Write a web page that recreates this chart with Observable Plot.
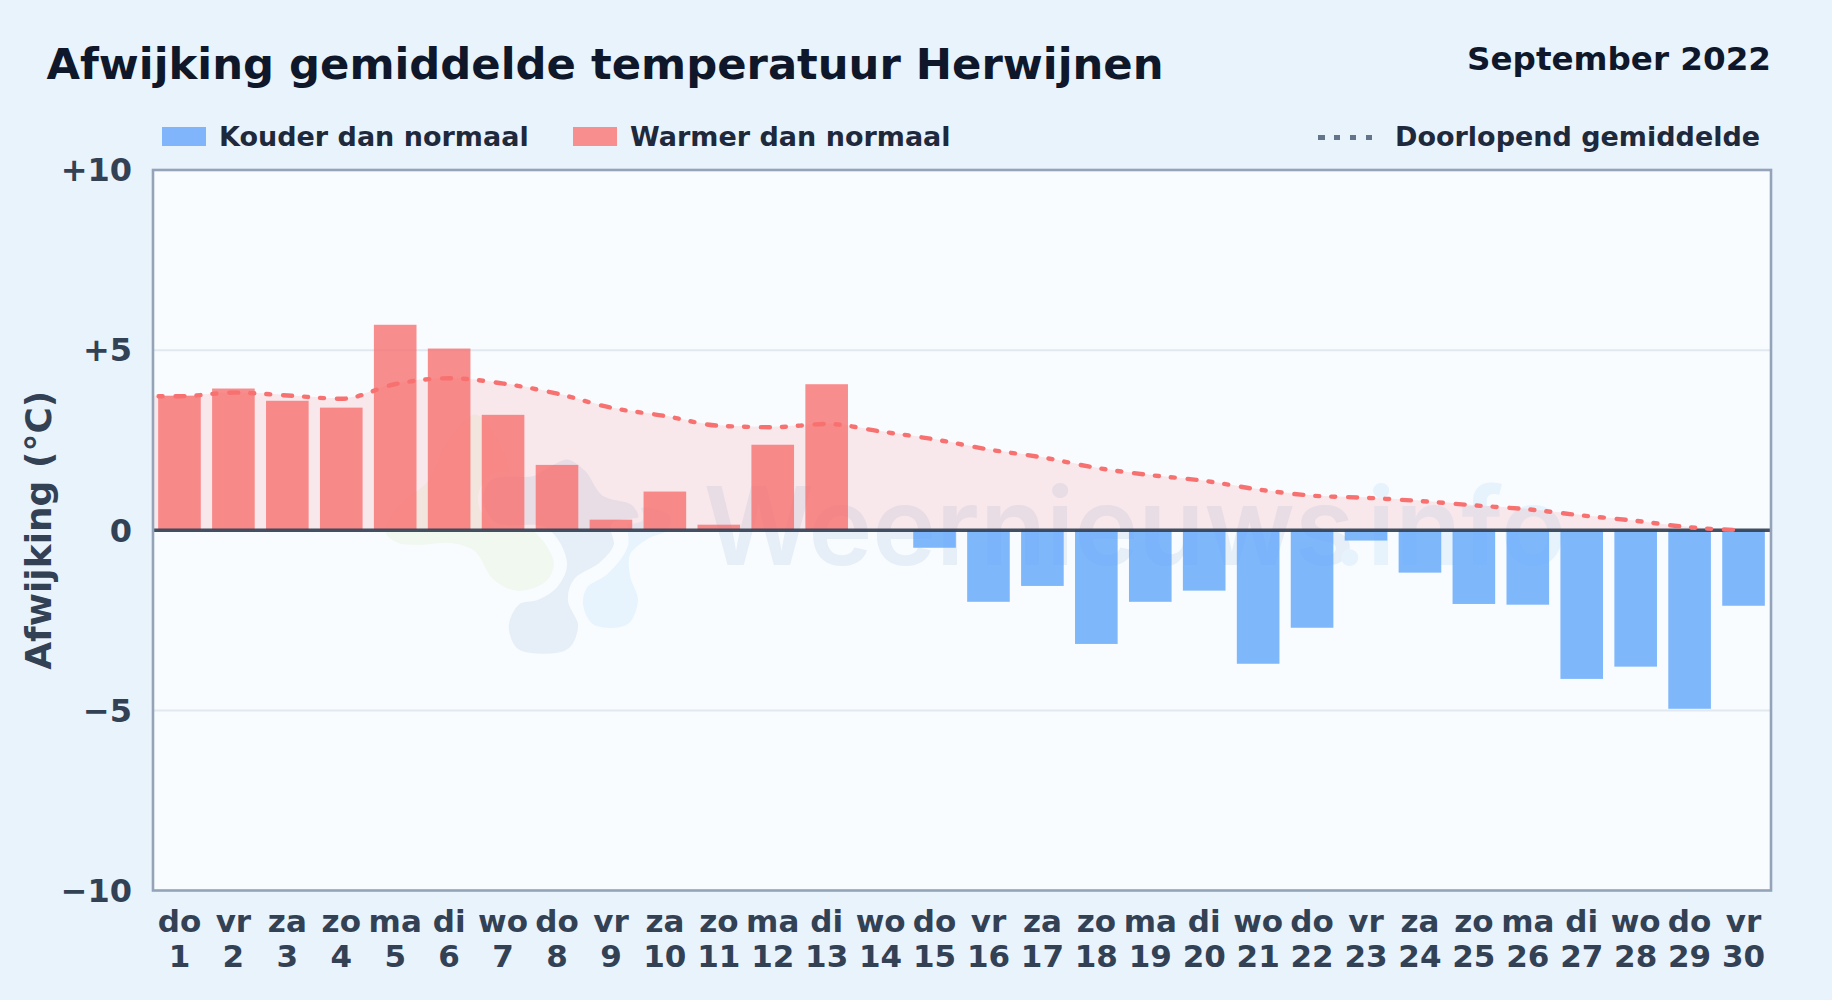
<!DOCTYPE html>
<html lang="nl">
<head>
<meta charset="utf-8">
<script src="https://cdn.jsdelivr.net/npm/d3@7"></script>
<script src="https://cdn.jsdelivr.net/npm/@observablehq/plot@0.6"></script>
<style>
html,body{margin:0;padding:0;width:1832px;height:1000px;overflow:hidden;background:#e9f3fc;font-family:"DejaVu Sans",sans-serif;font-weight:700}
#chart{position:absolute;left:0;top:0}
.t{position:absolute;line-height:1;white-space:nowrap}
#title{left:46.5px;top:43px;font-size:43.3px;color:#0f172a}
#month{right:61px;top:43px;font-size:32.6px;color:#0f172a}
.leg{top:123px;font-size:27px;color:#1e293b}
.sw{position:absolute;top:127px;height:19px;width:43.5px}
#dots{position:absolute;left:1318px;top:134.5px;width:55px;height:5px;background:repeating-linear-gradient(90deg,#64748b 0,#64748b 6.5px,transparent 6.5px,transparent 16px)}
</style>
</head>
<body>
<div class="t" id="title">Afwijking gemiddelde temperatuur Herwijnen</div>
<div class="t" id="month">September 2022</div>
<div class="sw" style="left:162px;background:#80b5fb"></div>
<div class="t leg" style="left:219px">Kouder dan normaal</div>
<div class="sw" style="left:573px;background:#f98e8f"></div>
<div class="t leg" style="left:630px">Warmer dan normaal</div>
<div id="dots"></div>
<div class="t leg" style="left:1395px">Doorlopend gemiddelde</div>
<div id="chart"></div>
<script>
const dayNames = ["do","vr","za","zo","ma","di","wo","do","vr","za","zo","ma","di","wo","do","vr","za","zo","ma","di","wo","do","vr","za","zo","ma","di","wo","do","vr"];
const dayNumbers = [1,2,3,4,5,6,7,8,9,10,11,12,13,14,15,16,17,18,19,20,21,22,23,24,25,26,27,28,29,30];
const deviation = [3.72,3.92,3.58,3.39,5.69,5.03,3.19,1.80,0.28,1.06,0.14,2.36,4.04,0,-0.50,-2.00,-1.56,-3.17,-2.00,-1.69,-3.72,-2.72,-0.30,-1.19,-2.06,-2.08,-4.14,-3.80,-4.97,-2.11];
const runningDays = [0.5,1,2,3,4,5,6,7,8,9,10,11,12,13,14,15,16,17,18,19,20,21,22,23,24,25,26,27,28,29,30];
const runningMean = [3.72,3.72,3.82,3.74,3.65,4.06,4.22,4.07,3.79,3.40,3.17,2.90,2.86,2.95,2.74,2.52,2.24,2.02,1.73,1.53,1.37,1.13,0.96,0.90,0.81,0.69,0.58,0.41,0.26,0.08,0];
const yTicks = [-10,-5,0,5,10];
const yTickLabels = ["−10","−5","0","+5","+10"];
const gridValues = [-5,5];

// faint watermark logo outlines, in chart units (day, degrees)
const logoGreenX = [4.77,5.03,5.46,6.02,6.44,6.76,7.26,7.82,7.98,7.82,7.31,7.04,6.48,5.92,5.55,5.0];
const logoGreenY = [-0.08,-0.42,-0.47,-0.42,-0.64,-1.39,-1.75,-1.47,-0.92,-0.36,0.56,2.22,3.28,2.5,1.39,0.69];
const logoLightX = [8.43,8.61,8.98,9.35,9.54,9.39,9.39,9.72,10.06,10.13,9.54,9.26,9.26,8.89,8.52];
const logoLightY = [-2.08,-2.64,-2.78,-2.64,-1.94,-1.25,-0.69,-0.28,-0.06,0.42,0.69,0.28,-0.42,-1.17,-1.53];
const logoDarkX = [7.05,7.22,7.70,8.24,8.43,8.24,8.35,8.80,9.09,9.04,9.54,9.41,8.85,8.56,8.19,7.82,7.56,6.76,6.57,6.85,7.78,8.13,7.96,7.63,7.26];
const logoDarkY = [-2.64,-3.33,-3.5,-3.33,-2.64,-1.94,-1.39,-0.97,-0.42,0.14,0.33,0.75,1.03,1.67,2.03,1.81,1.58,1.47,0.83,0.14,0,-0.92,-1.53,-1.86,-2.0];

const bars = dayNumbers.map((d,i)=>({day:d,value:deviation[i]})).filter(d=>d.value!==0);
const running = runningDays.map((d,i)=>({day:d,value:runningMean[i]}));
const pts = (xs,ys)=>xs.map((x,i)=>({x,y:ys[i]}));
const halfBar = 0.395;
const font = '"DejaVu Sans",sans-serif';
const panel = "#f8fcff";
const logoShape = (xs,ys,color)=>Plot.line(pts(xs,ys),{x:"x",y:"y",fill:color,stroke:panel,strokeWidth:5,curve:"catmull-rom-closed"});

const svg = Plot.plot({
  width:1832,height:1000,
  marginLeft:152.5,marginRight:61.5,marginTop:169.5,marginBottom:110,
  style:{background:"transparent",fontFamily:font,fontWeight:700},
  x:{type:"linear",domain:[0.5,30.5]},
  y:{domain:[-10,10]},
  marks:[
    Plot.frame({fill:panel,stroke:null}),
    logoShape(logoGreenX,logoGreenY,"#f1f8ef"),
    logoShape(logoLightX,logoLightY,"#e7f4fd"),
    logoShape(logoDarkX,logoDarkY,"#e6eff8"),
    Plot.text(["Weernieuws"],{x:()=>10.71,y:()=>-0.97,text:d=>d,textAnchor:"start",lineAnchor:"bottom",fontFamily:"Inter",fontWeight:600,fontSize:108,fill:"#e6eef8"}),
    Plot.text([".info"],{x:()=>22.37,y:()=>-0.97,text:d=>d,textAnchor:"start",lineAnchor:"bottom",fontFamily:"Inter",fontWeight:600,fontSize:108,fill:"#e6f3fd"}),
    Plot.ruleY(gridValues,{stroke:"#e2e8f0",strokeWidth:2}),
    Plot.areaY(running,{x:"day",y1:0,y2:"value",curve:"monotone-x",fill:"#f87171",fillOpacity:0.14}),
    Plot.rectY(bars,{x1:d=>d.day-halfBar,x2:d=>d.day+halfBar,y1:0,y2:"value",fill:d=>d.value<0?"#60a5fa":"#f87171",fillOpacity:0.8}),
    Plot.ruleY([0],{stroke:"#334155",strokeWidth:3.6,strokeOpacity:0.92}),
    Plot.line(running,{x:"day",y:"value",curve:"monotone-x",stroke:"#f87171",strokeWidth:4.4,strokeLinecap:"round",strokeDasharray:"9 12 4 12 4 12.9",strokeDashoffset:31.4}),
    Plot.frame({stroke:"#94a3b8",strokeWidth:2.6}),
    Plot.axisY({ticks:yTicks,tickFormat:d=>yTickLabels[yTicks.indexOf(d)],tickSize:0,tickPadding:21,fontSize:32,fill:"#334155",label:null,fontWeight:700,dy:1}),
    Plot.axisX({ticks:dayNumbers,tickFormat:d=>`${dayNames[d-1]}\n${d}`,tickSize:0,tickPadding:16,fontSize:31,fill:"#334155",label:null,lineHeight:1.15,fontWeight:700,dx:-0.5}),
    Plot.text(["Afwijking (°C)"],{frameAnchor:"left",textAnchor:"middle",dx:-113.5,rotate:-90,text:d=>d,fontSize:36,fontWeight:700,fill:"#334155"})
  ]
});
document.getElementById("chart").appendChild(svg);
</script>
</body>
</html>
